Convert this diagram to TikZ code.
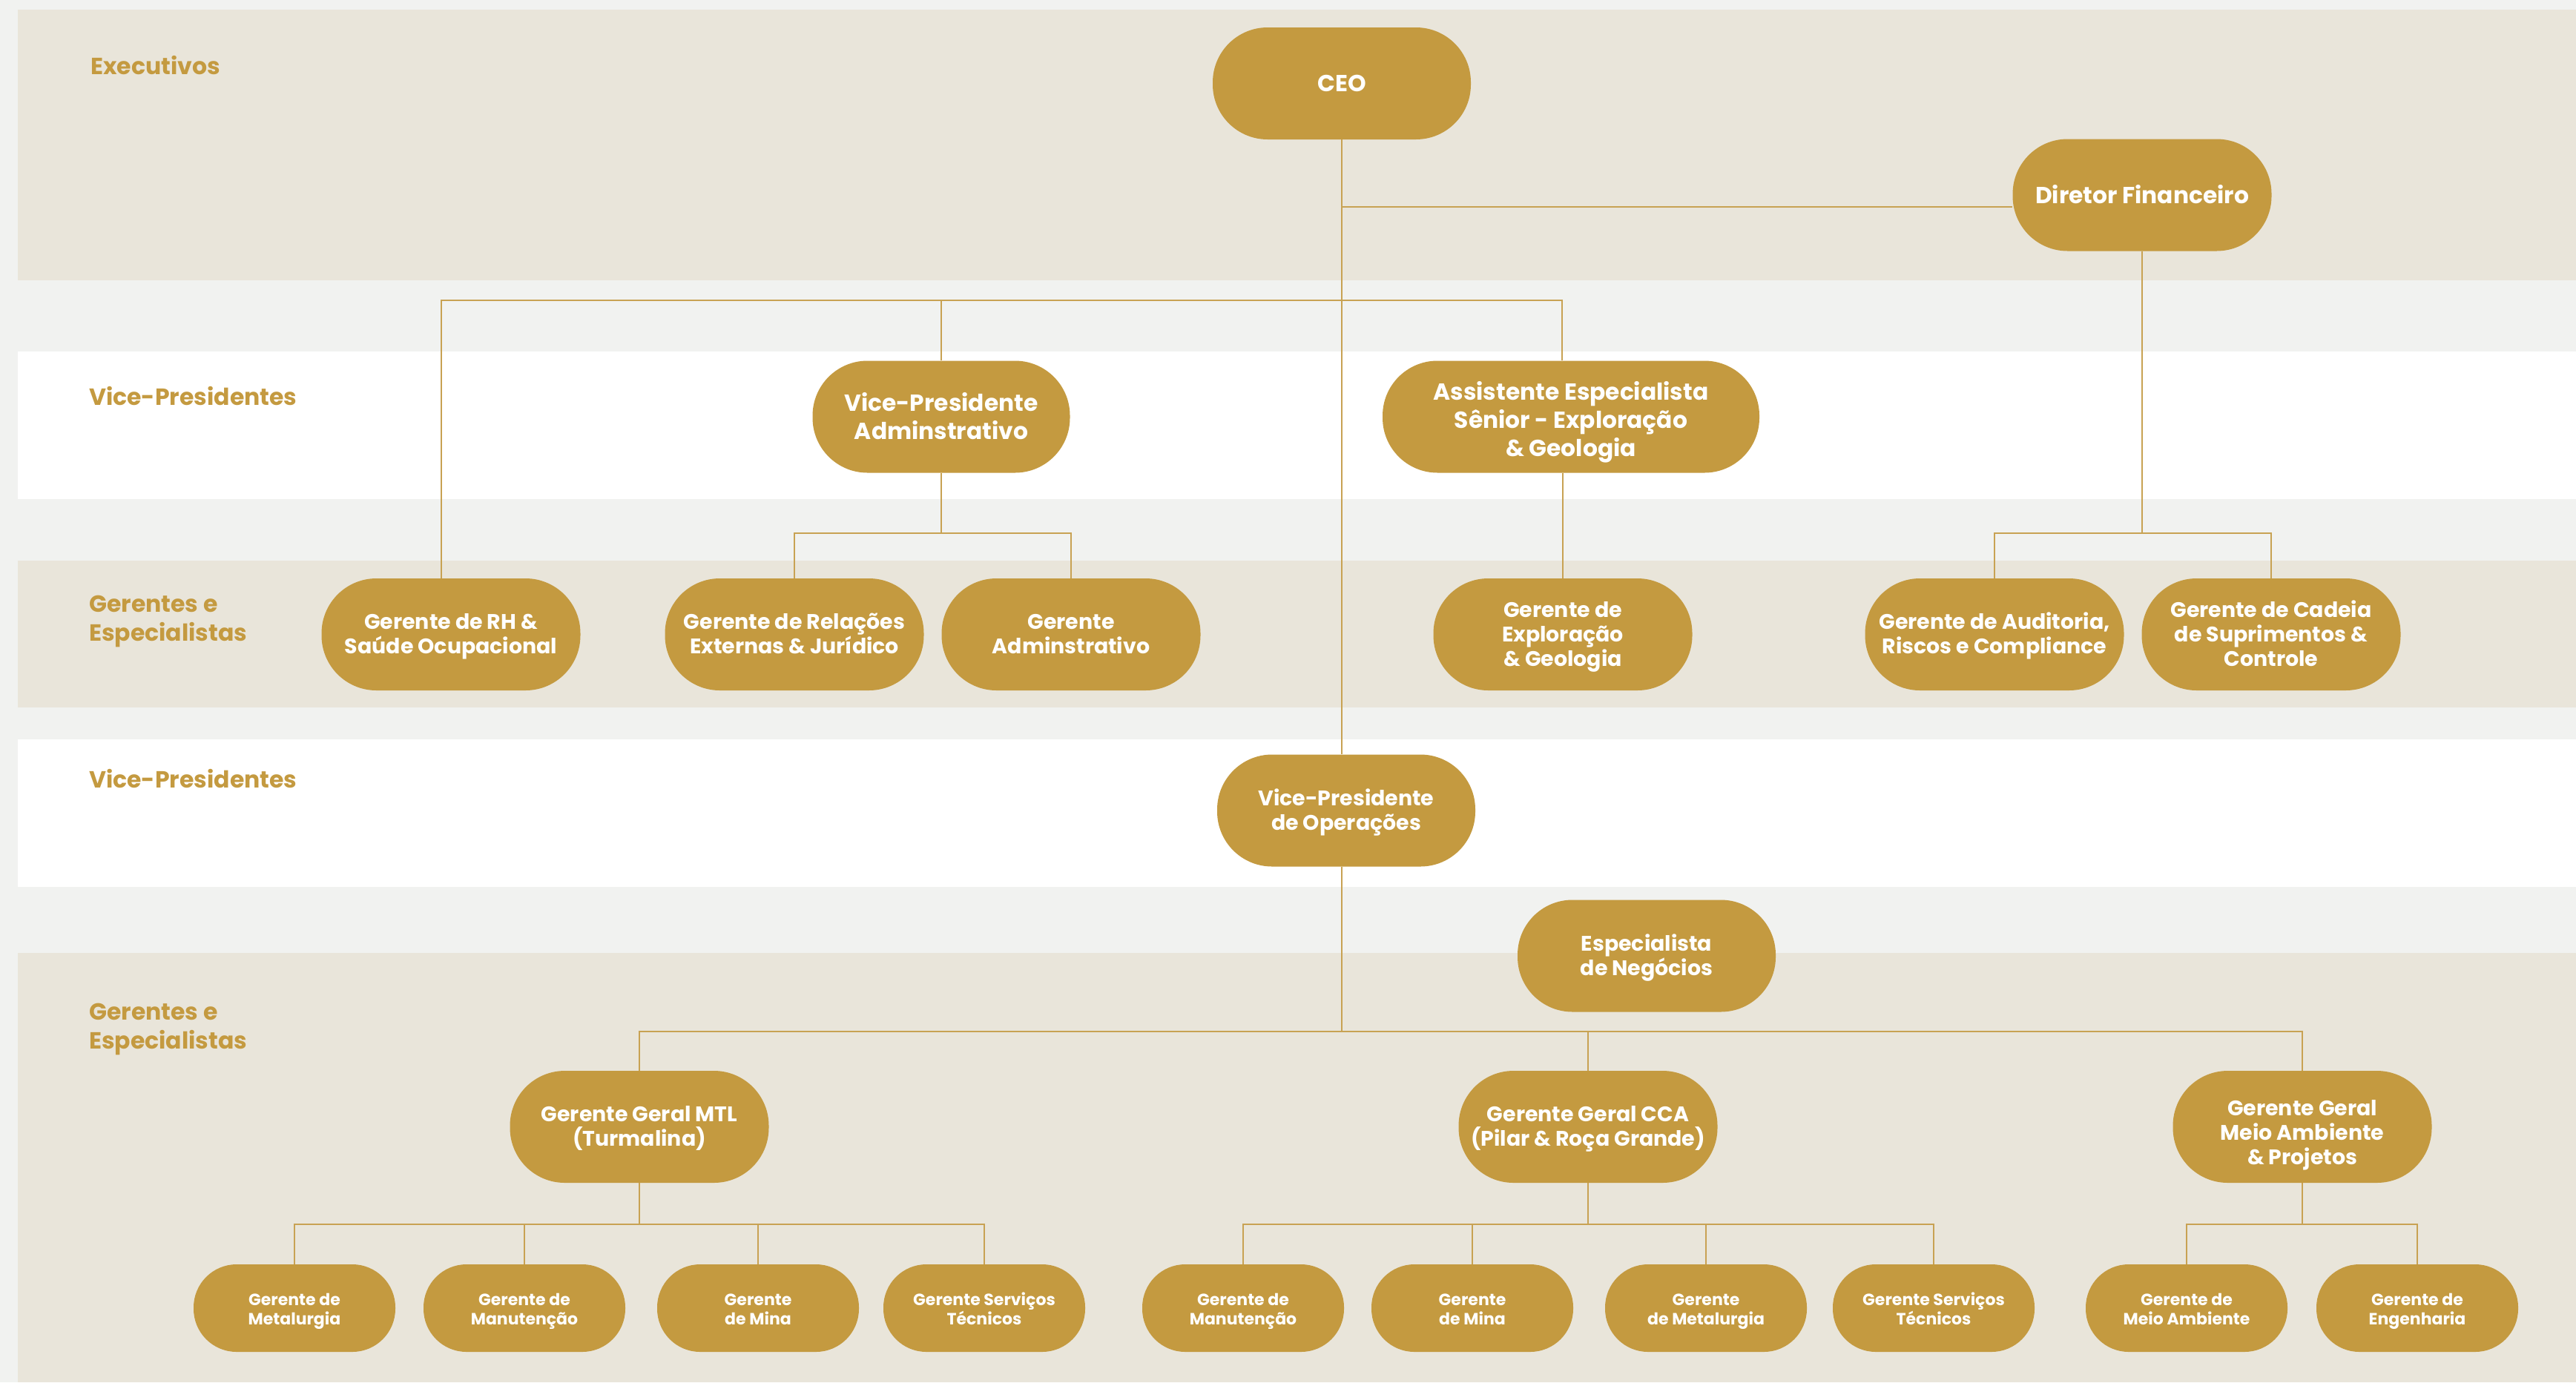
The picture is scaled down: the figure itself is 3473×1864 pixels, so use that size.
\documentclass[tikz,border=0pt]{standalone}
\usepackage{fontspec}
\setmainfont{Poppins Bold}
\definecolor{gold}{HTML}{C49A40}
\definecolor{linegold}{HTML}{C8A253}
\definecolor{beige}{HTML}{E9E5DA}
\definecolor{pagegray}{HTML}{F1F2F0}
\newcommand\fbig{\fontsize{31.3}{37.7}\selectfont}
\newcommand\fmid{\fontsize{28.4}{32.9}\selectfont}
\newcommand\fsml{\fontsize{22}{25.3}\selectfont}
\newcommand\flab{\fontsize{31.5}{38.5}\selectfont}
% struts that fix the vertical centring of node text
\newcommand\strBig{\rule{0pt}{1.07em}}
\newcommand\strAsst{\rule{0pt}{1.33em}}
\newcommand\strMid{\rule{0pt}{1.04em}}
\newcommand\strSml{\rule{0pt}{1.21em}}
\newcommand\strMA{\rule{0pt}{1.61em}}
\newcommand\strEnd{\rule[-0.35em]{0pt}{0pt}}
\pgfdeclarelayer{bands}
\pgfdeclarelayer{lines}
\pgfsetlayers{bands,lines,main}
\tikzset{
  box/.style={fill=gold, text=white, rounded corners=74pt, minimum width=349pt,
    minimum height=151pt, inner sep=0pt, align=center, font=\fmid},
  bigbox/.style={box, font=\fbig},
  smallbox/.style={fill=gold, text=white, rounded corners=58pt, minimum width=272pt,
    minimum height=118pt, inner sep=0pt, align=center, font=\fsml},
  lab/.style={text=gold, inner sep=0pt, align=left, font=\flab},
  conn/.style={draw=linegold, line width=2pt}
}
\begin{document}
\begin{tikzpicture}[x=1pt,y=-1pt]
\useasboundingbox (0,0) rectangle (3473,1864);
\begin{pgfonlayer}{bands}
\fill[pagegray] (0,0) rectangle (3473,1864);
\fill[beige] (24,13) rectangle (3473,378);
\fill[white] (24,474) rectangle (3473,673);
\fill[beige] (24,756) rectangle (3473,954);
\fill[white] (24,997) rectangle (3473,1196);
\fill[beige] (24,1285) rectangle (3473,1864);
\end{pgfonlayer}

% row labels
\node[lab, anchor=base west] (lexec) at (122,100) {Executivos};
\node[lab, anchor=base west] (lvp1) at (120,546) {Vice-Presidentes};
\node[lab, anchor=north west] (lger1) at (120,803) {Gerentes e\\Especialistas};
\node[lab, anchor=base west] (lvp2) at (120,1062) {Vice-Presidentes};
\node[lab, anchor=north west] (lger2) at (120,1353) {Gerentes e\\Especialistas};

% executives
\node[bigbox, minimum width=348pt] (ceo) at (1809,112.5) {\strBig CEO\strEnd};
\node[bigbox] (df) at (2888,263) {\strBig Diretor Financeiro\strEnd};

% vice-presidents
\node[bigbox, minimum width=347pt] (vpadm) at (1269,562) {\strBig Vice-Presidente\\Adminstrativo\strEnd};
\node[bigbox, minimum width=508pt] (asst) at (2118,562) {\strAsst Assistente Especialista\\Sênior - Exploração\\\& Geologia\strEnd};

% managers row 1
\node[box] (rh) at (608,855.5) {\strMid Gerente de RH \&\\Saúde Ocupacional\strEnd};
\node[box] (rel) at (1071,855.5) {\strMid Gerente de Relações\\Externas \& Jurídico\strEnd};
\node[box] (gadm) at (1444,855.5) {\strMid Gerente\\Adminstrativo\strEnd};
\node[box] (expl) at (2107,855.5) {\strMid Gerente de\\Exploração\\\& Geologia\strEnd};
\node[box] (aud) at (2689,855.5) {\strMid Gerente de Auditoria,\\Riscos e Compliance\strEnd};
\node[box] (cad) at (3062,855.5) {\strMid Gerente de Cadeia\\de Suprimentos \&\\Controle\strEnd};

% VP operations
\node[box, minimum width=348pt] (vpops) at (1815,1093) {\strMid Vice-Presidente\\de Operações\strEnd};
\node[box, minimum width=348pt] (esp) at (2220,1289) {\strMid Especialista\\de Negócios\strEnd};

% general managers
\node[box] (mtl) at (862,1519.5) {\strMid Gerente Geral MTL\\(Turmalina)\strEnd};
\node[box] (cca) at (2141,1519.5) {\strMid Gerente Geral CCA\\(Pilar \& Roça Grande)\strEnd};
\node[box] (ma) at (3104,1519.5) {\strMA Gerente Geral\\Meio Ambiente\\\& Projetos\strEnd};

% bottom row
\node[smallbox] (m1) at (397,1764) {\strSml Gerente de\\Metalurgia\strEnd};
\node[smallbox] (m2) at (707,1764) {\strSml Gerente de\\Manutenção\strEnd};
\node[smallbox] (m3) at (1022,1764) {\strSml Gerente\\de Mina\strEnd};
\node[smallbox] (m4) at (1327,1764) {\strSml Gerente Serviços\\Técnicos\strEnd};
\node[smallbox] (c1) at (1676,1764) {\strSml Gerente de\\Manutenção\strEnd};
\node[smallbox] (c2) at (1985,1764) {\strSml Gerente\\de Mina\strEnd};
\node[smallbox] (c3) at (2300,1764) {\strSml Gerente\\de Metalurgia\strEnd};
\node[smallbox] (c4) at (2607,1764) {\strSml Gerente Serviços\\Técnicos\strEnd};
\node[smallbox] (a1) at (2948,1764) {\strSml Gerente de\\Meio Ambiente\strEnd};
\node[smallbox] (a2) at (3259,1764) {\strSml Gerente de\\Engenharia\strEnd};

% junctions
\coordinate (jdf) at (1809,279);
\coordinate (bus1) at (1809,405);
\coordinate (bus2) at (1269,719);
\coordinate (bus3) at (2888,719);
\coordinate (bus4) at (1809,1391);
\coordinate (bus5) at (862,1651);
\coordinate (bus6) at (2141,1651);
\coordinate (bus7) at (3104,1651);

\begin{pgfonlayer}{lines}
\draw[conn] (ceo.south) -- ([xshift=-6pt]vpops.north);
\draw[conn] (jdf) -- (jdf -| df.west);
\draw[conn] ([xshift=-13pt]rh.north) |- (bus1);
\draw[conn] (bus1) -| ([xshift=-12pt]asst.north);
\draw[conn] (vpadm.north) -- (vpadm.north |- bus1);
\draw[conn] (expl.north |- asst.south) -- (expl.north);
\draw[conn] (vpadm.south) -- (bus2);
\draw[conn] (rel.north) |- (bus2) -| (gadm.north);
\draw[conn] (df.south) -- (bus3);
\draw[conn] (aud.north) |- (bus3) -| (cad.north);
\draw[conn] ([xshift=-6pt]vpops.south) -- (bus4);
\draw[conn] (mtl.north) |- (bus4) -| (ma.north);
\draw[conn] (cca.north) -- (cca.north |- bus4);
\draw[conn] (mtl.south) -- (bus5);
\draw[conn] (m1.north) |- (bus5) -| (m4.north);
\draw[conn] (m2.north) -- (m2.north |- bus5);
\draw[conn] (m3.north) -- (m3.north |- bus5);
\draw[conn] (cca.south) -- (bus6);
\draw[conn] (c1.north) |- (bus6) -| (c4.north);
\draw[conn] (c2.north) -- (c2.north |- bus6);
\draw[conn] (c3.north) -- (c3.north |- bus6);
\draw[conn] (ma.south) -- (bus7);
\draw[conn] (a1.north) |- (bus7) -| (a2.north);
\end{pgfonlayer}
\end{tikzpicture}
\end{document}
